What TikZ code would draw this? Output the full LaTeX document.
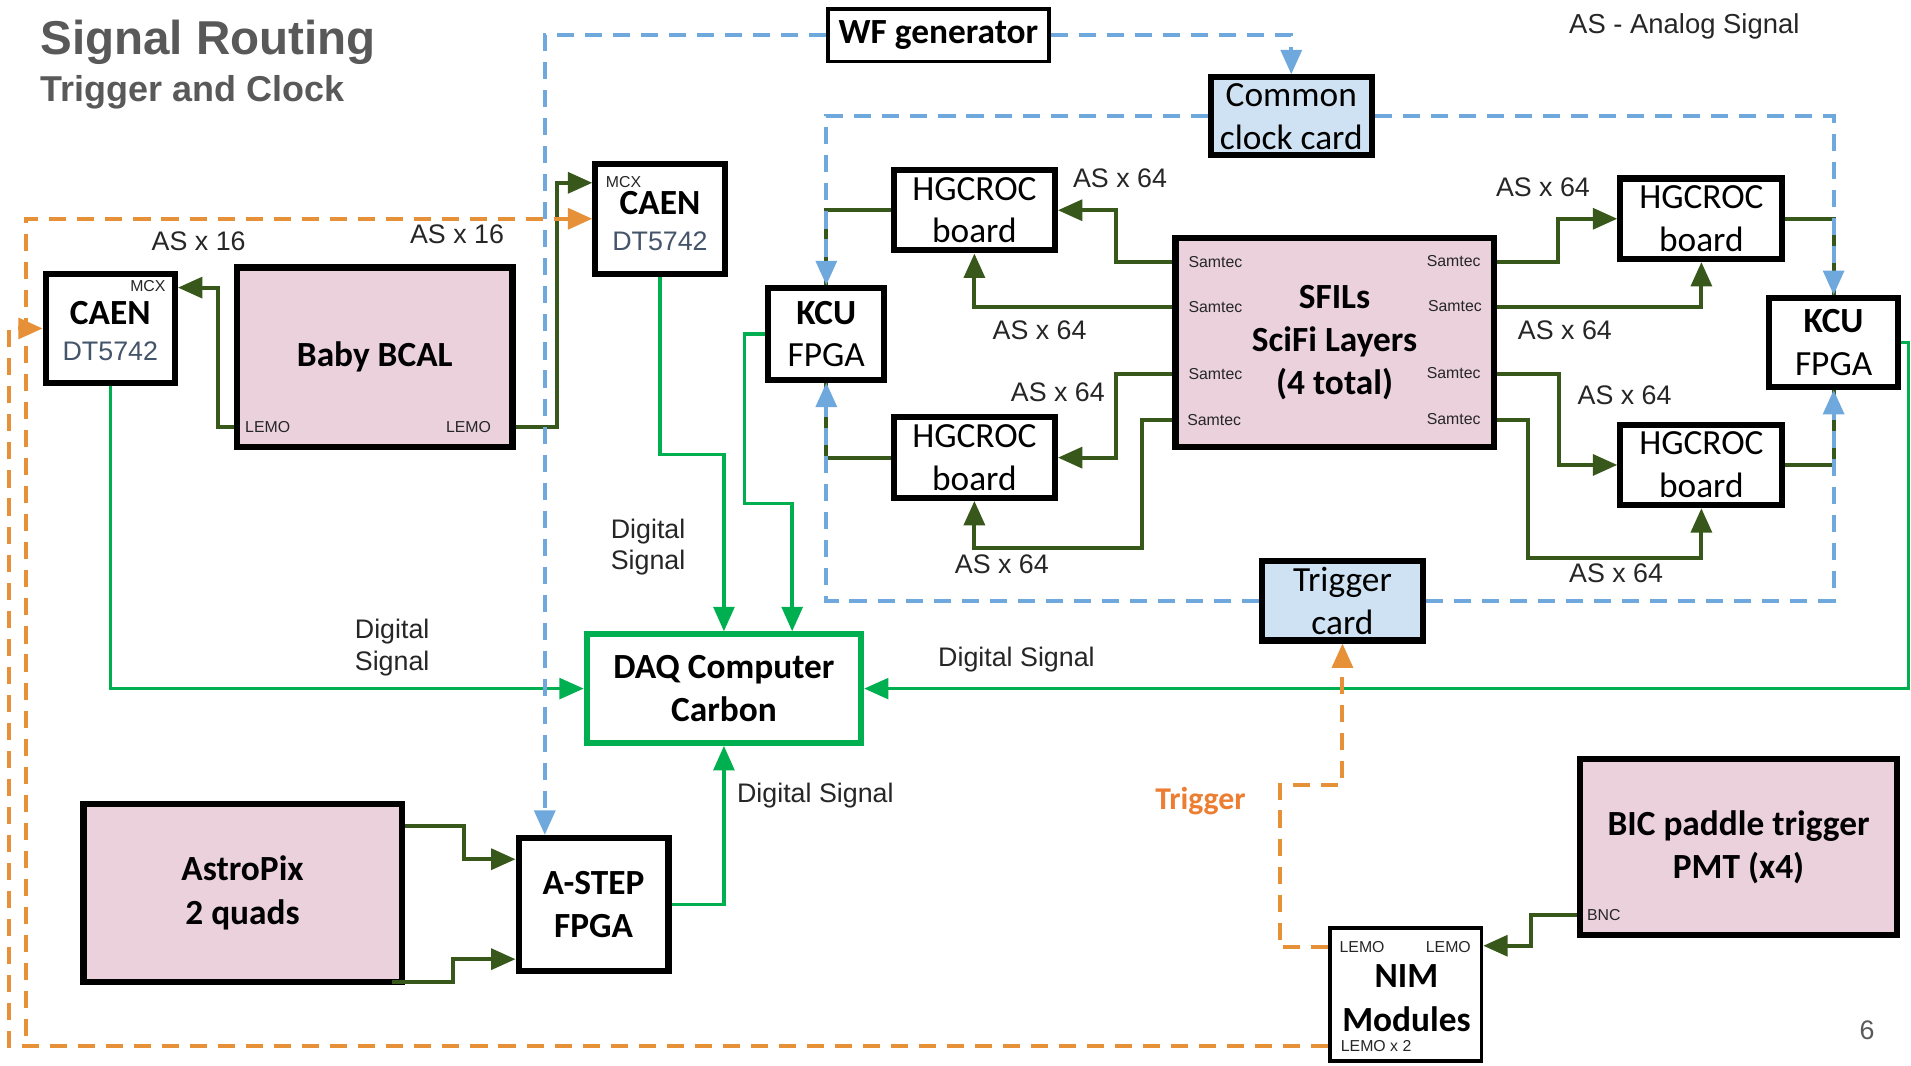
\documentclass[tikz,border=0pt]{standalone}
\usepackage{fontspec}
\setmainfont{Carlito}
\newfontfamily\arialf{Liberation Sans}
\usetikzlibrary{arrows.meta,calc}
\definecolor{dkgreen}{HTML}{38571A}
\definecolor{brgreen}{HTML}{00B050}
\definecolor{clkblue}{HTML}{6FA8DC}
\definecolor{trorange}{HTML}{E69138}
\definecolor{pinkfill}{HTML}{EAD1DC}
\definecolor{bluefill}{HTML}{CFE2F3}
\definecolor{titlegray}{HTML}{595959}
\definecolor{labgray}{HTML}{262626}
\definecolor{slate}{HTML}{44546A}
\definecolor{trigtext}{HTML}{ED7D31}
\tikzset{
 blk/.style={draw=black, line width=5pt, fill=white, inner sep=0pt, align=center, font=\fontsize{29}{35}\selectfont},
 thinblk/.style={blk, line width=3pt},
 pinkblk/.style={blk, fill=pinkfill},
 blueblk/.style={blk, fill=bluefill},
 daqblk/.style={blk, draw=brgreen},
 lab/.style={inner sep=0pt, text=labgray, font=\arialf\fontsize{22}{26}\selectfont},
 tiny/.style={inner sep=0pt, text=labgray, font=\arialf\fontsize{13}{15}\selectfont},
 tip/.style={-{Triangle[length=20pt,width=17pt]}},
 dgline/.style={draw=dkgreen, line width=3.3pt},
 bgline/.style={draw=brgreen, line width=2.8pt},
 clkline/.style={draw=clkblue, line width=3.3pt, dash pattern=on 14pt off 9pt},
 trgline/.style={draw=trorange, line width=3.3pt, dash pattern=on 14pt off 9pt},
}
\begin{document}
\begin{tikzpicture}[x=1pt,y=-1pt]
\useasboundingbox[fill=white] (0,0) rectangle (1568,874);

% titles
\node[anchor=base west, inner sep=0pt, text=titlegray, font=\arialf\bfseries\fontsize{39}{44}\selectfont] (title) at (33,45) {Signal Routing};
\node[anchor=base west, inner sep=0pt, text=titlegray, font=\arialf\bfseries\fontsize{29.5}{34}\selectfont] (subtitle) at (33,83) {Trigger and Clock};
\node[lab, font=\arialf\fontsize{22.5}{26}\selectfont] (legend) at (1382,22) {AS - Analog Signal};
\node[inner sep=0pt, text=titlegray, font=\arialf\fontsize{22}{26}\selectfont] (pagenum) at (1532,845) {6};

% boxes
\node[thinblk, minimum width=181pt, minimum height=43pt, font=\bfseries\fontsize{29}{35}\selectfont] (wf) at (770,29) {WF generator};
\node[blueblk, minimum width=132pt, minimum height=64pt] (clock) at (1059.5,95.5) {Common\\clock card};
\node[blk, minimum width=106pt, minimum height=90pt] (caen2) at (541.5,179.5) {};
\node[blk, minimum width=106pt, minimum height=90pt] (caen1) at (90.5,269.5) {};
\node[pinkblk, minimum width=226pt, minimum height=147pt, font=\bfseries\fontsize{29}{35}\selectfont] (bcal) at (307.5,293) {Baby BCAL};
\node[blk, minimum width=132pt, minimum height=66pt] (hgTL) at (799.5,172.5) {HGCROC\\board};
\node[blk, minimum width=132pt, minimum height=66pt] (hgBL) at (799.5,375.5) {HGCROC\\board};
\node[blk, minimum width=133pt, minimum height=66pt] (hgTR) at (1396,179.5) {HGCROC\\board};
\node[blk, minimum width=133pt, minimum height=66pt] (hgBR) at (1396,381.5) {HGCROC\\board};
\node[blk, minimum width=95pt, minimum height=75pt] (kcuL) at (678,274) {\textbf{KCU}\\FPGA};
\node[blk, minimum width=106pt, minimum height=73pt] (kcuR) at (1504.5,281) {\textbf{KCU}\\FPGA};
\node[pinkblk, minimum width=261pt, minimum height=171pt, font=\bfseries\fontsize{29}{35.5}\selectfont] (sfil) at (1095,281) {SFILs\\SciFi Layers\\(4 total)};
\node[blueblk, minimum width=132pt, minimum height=65pt] (trig) at (1101.5,493) {Trigger\\card};
\node[daqblk, minimum width=225pt, minimum height=89pt, font=\bfseries\fontsize{29}{35}\selectfont] (daq) at (594,565) {DAQ Computer\\Carbon};
\node[pinkblk, minimum width=261pt, minimum height=146pt, font=\bfseries\fontsize{29}{36}\selectfont] (astro) at (199,732.5) {AstroPix\\2 quads};
\node[blk, minimum width=123pt, minimum height=109pt, font=\bfseries\fontsize{29}{35}\selectfont] (astep) at (487,742) {A-STEP\\FPGA};
\node[pinkblk, minimum width=260pt, minimum height=145pt, font=\bfseries\fontsize{29}{35}\selectfont] (bic) at (1426.5,695) {BIC paddle trigger\\PMT (x4)};
\node[thinblk, minimum width=124pt, minimum height=109pt] (nim) at (1153.5,816) {};

% inner labels of CAEN boxes
\node[tiny, anchor=west] (mcx2) at (497,149) {MCX};
\node[inner sep=0pt, font=\bfseries\fontsize{29}{35}\selectfont] (caen2t) at (541.5,167) {CAEN};
\node[inner sep=0pt, text=slate, font=\arialf\fontsize{22}{26}\selectfont] (caen2m) at (541.5,198) {DT5742};
\node[tiny, anchor=east] (mcx1) at (136,235) {MCX};
\node[inner sep=0pt, font=\bfseries\fontsize{29}{35}\selectfont] (caen1t) at (90.5,257) {CAEN};
\node[inner sep=0pt, text=slate, font=\arialf\fontsize{22}{26}\selectfont] (caen1m) at (90.5,288) {DT5742};
% LEMO labels of Baby BCAL
\node[tiny, anchor=west] (lemoA) at (201,350) {LEMO};
\node[tiny, anchor=east] (lemoB) at (403,350) {LEMO};
% Samtec labels
\node[tiny, anchor=west] (smL1) at (975,215) {Samtec};
\node[tiny, anchor=west] (smL2) at (975,252) {Samtec};
\node[tiny, anchor=west] (smL3) at (975,307) {Samtec};
\node[tiny, anchor=west] (smL4) at (974,345) {Samtec};
\node[tiny, anchor=east] (smR1) at (1215,214) {Samtec};
\node[tiny, anchor=east] (smR2) at (1216,251) {Samtec};
\node[tiny, anchor=east] (smR3) at (1215,306) {Samtec};
\node[tiny, anchor=east] (smR4) at (1215,344) {Samtec};
% BIC and NIM labels
\node[tiny, anchor=west] (bnc) at (1302,751) {BNC};
\node[tiny, anchor=west] (lemoC) at (1099,777) {LEMO};
\node[tiny, anchor=east] (lemoD) at (1207,777) {LEMO};
\node[inner sep=0pt, font=\bfseries\fontsize{29}{35}\selectfont] (nimt) at (1154,801) {NIM};
\node[inner sep=0pt, font=\bfseries\fontsize{29}{35}\selectfont] (nimm) at (1154,836) {Modules};
\node[tiny, anchor=west] (lemoE) at (1100,858) {LEMO x 2};

% connector labels
\node[lab] (l16a) at (163,198) {AS x 16};
\node[lab] (l16b) at (375,192) {AS x 16};
\node[lab] (l64a) at (919,146) {AS x 64};
\node[lab] (l64b) at (853,271) {AS x 64};
\node[lab] (l64c) at (868,322) {AS x 64};
\node[lab] (l64d) at (822,463) {AS x 64};
\node[lab] (l64e) at (1266,154) {AS x 64};
\node[lab] (l64f) at (1284,271) {AS x 64};
\node[lab] (l64g) at (1333,324) {AS x 64};
\node[lab] (l64h) at (1326,470) {AS x 64};
\node[lab, anchor=west, align=left] (dsA) at (501,449) {Digital\\Signal};
\node[lab, anchor=west, align=left] (dsB) at (291,531.5) {Digital\\Signal};
\node[lab] (dsC) at (834,541) {Digital Signal};
\node[lab] (dsD) at (669,653) {Digital Signal};
\node[inner sep=0pt, text=trigtext, font=\bfseries\fontsize{26}{30}\selectfont] (trigl) at (985,657) {Trigger};

% dark green analog connectors
\draw[dgline, tip] (bcal.west |- 0,350) -- (179,350) |- (caen1.east |- 0,236);
\draw[dgline, tip] (bcal.east |- 0,350) -- (457,350) |- (caen2.west |- 0,150);
\draw[dgline, tip] (sfil.west |- 0,215) -- (916,215) |- (hgTL.east);
\draw[dgline, tip] (sfil.west |- 0,252) -| (hgTL.south);
\draw[dgline, tip] (sfil.west |- 0,307) -- (916,307) |- (hgBL.east);
\draw[dgline, tip] (sfil.west |- 0,345) -- (937,345) -- (937,450) -| (hgBL.south);
\draw[dgline, tip] (sfil.east |- 0,215) -- (1278,215) |- (hgTR.west);
\draw[dgline, tip] (sfil.east |- 0,252) -| (hgTR.south);
\draw[dgline, tip] (sfil.east |- 0,307) -- (1279,307) |- (hgBR.west);
\draw[dgline, tip] (sfil.east |- 0,345) -- (1254,345) -- (1254,458) -| (hgBR.south);
\draw[dgline] (hgTL.west) -| (kcuL.north);
\draw[dgline] (hgBL.west) -| (kcuL.south);
\draw[dgline] (hgTR.east) -| (kcuR.north);
\draw[dgline] (hgBR.east) -| (kcuR.south);
\draw[dgline, tip] (astro.east |- 0,678) -- (381,678) |- (astep.west |- 0,705);
\draw[dgline, tip] ([xshift=-10pt,yshift=2pt]astro.south east) -- (372,806) |- (astep.west |- 0,787);
\draw[dgline, tip] (bic.west |- 0,751) -- (1256,751) |- (nim.east |- 0,776);

% bright green digital connectors
\draw[bgline, tip] (caen1.south) |- (daq.west);
\draw[bgline, tip] (caen2.south) -- (caen2.south |- 0,373) -| (daq.north);
\draw[bgline, tip] (kcuL.west) -| (611,413) -| (daq.north -| 650,0);
\draw[bgline, tip] (kcuR.east) -- (1566,281) |- (daq.east);
\draw[bgline, tip] (astep.east) -| (daq.south);

% blue dashed clock connectors
\draw[clkline, tip] (wf.west) -| (astep.north -| 447,0);
\draw[clkline, tip] (wf.east) -| (clock.north);
\draw[clkline, tip] (clock.west) -| (kcuL.north);
\draw[clkline, tip] (clock.east) -| (kcuR.north);
\draw[clkline, tip] (trig.west) -| (kcuL.south);
\draw[clkline, tip] (trig.east) -| (kcuR.south);

% orange dashed trigger connectors
\draw[trgline, tip] (nim.west |- 0,858) -- (7,858) |- (caen1.west);
\draw[trgline, tip] (21,850) |- (caen2.west);
\draw[trgline, tip] (nim.west |- 0,777) -- (1050,777) -- (1050,644) -| (trig.south);
\end{tikzpicture}
\end{document}
